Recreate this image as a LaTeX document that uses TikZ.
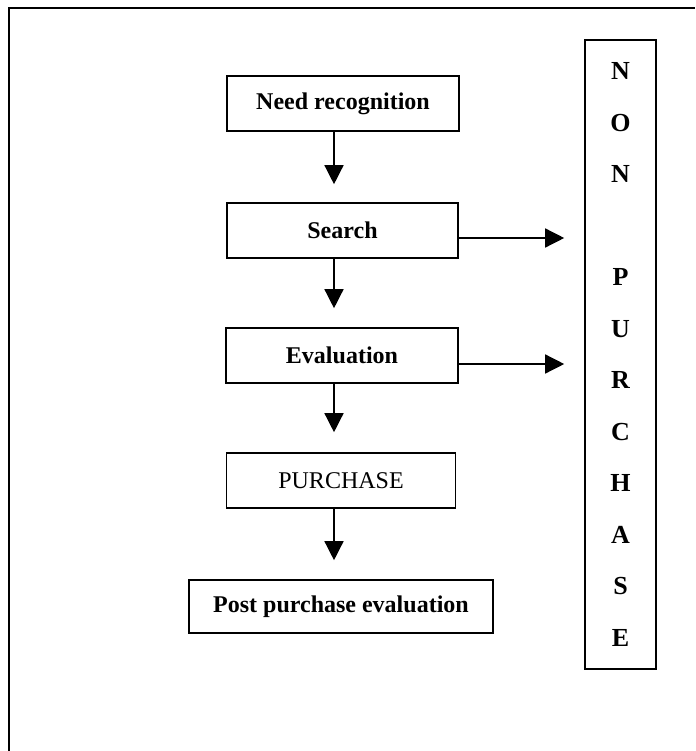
\documentclass[tikz,border=0pt]{standalone}
\usepackage{fontspec}
\setmainfont{Liberation Serif}
\usetikzlibrary{arrows.meta}
\begin{document}
\begin{tikzpicture}[x=1pt,y=-1pt,
  stage/.style={draw,line width=1.6pt,minimum height=55pt,inner sep=0pt,
    font=\fontsize{24}{28}\selectfont\bfseries},
  flow/.style={line width=1.4pt,-{Triangle[length=19pt,width=19pt]}},
]
\useasboundingbox (0,0) rectangle (695,751);
% page frame (top and left edges only)
\draw[line width=1.3pt] (9,751) -- (9,8) -- (695,8);

% decision stages
\node[stage,minimum width=232pt] (need)   at (343,103.5) {Need recognition};
\node[stage,minimum width=231pt] (search) at (342.5,230.5) {Search};
\node[stage,minimum width=232pt] (eval)   at (342,355.5) {Evaluation};
\node[stage,minimum width=229pt,font=\fontsize{24}{28}\selectfont] (purch) at (341,480.5) {PURCHASE};
\node[stage,minimum width=304pt,minimum height=53pt] (post) at (341,606.5) {Post purchase evaluation};

% exit column
\node[draw,line width=1.6pt,minimum width=71pt,minimum height=629pt,inner sep=0pt,
  align=center,font=\fontsize{26}{51.5}\selectfont\bfseries] (nonp) at (620.5,354.5)
  {N\\O\\N\\\mbox{}\\P\\U\\R\\C\\H\\A\\S\\E};

% main flow
\coordinate (axis) at (334,0);
\draw[flow,shorten >=18pt] (need.south -| axis) -- (search.north -| axis);
\draw[flow,shorten >=19pt] (search.south -| axis) -- (eval.north -| axis);
\draw[flow,shorten >=20pt] (eval.south -| axis) -- (purch.north -| axis);
\draw[flow,shorten >=19pt] (purch.south -| axis) -- (post.north -| axis);

% exits to non purchase
\coordinate (exitA) at (0,238);
\coordinate (exitB) at (0,364);
\draw[flow,shorten >=20pt] (search.east |- exitA) -- (nonp.west |- exitA);
\draw[flow,shorten >=20pt] (eval.east |- exitB) -- (nonp.west |- exitB);
\end{tikzpicture}
\end{document}
